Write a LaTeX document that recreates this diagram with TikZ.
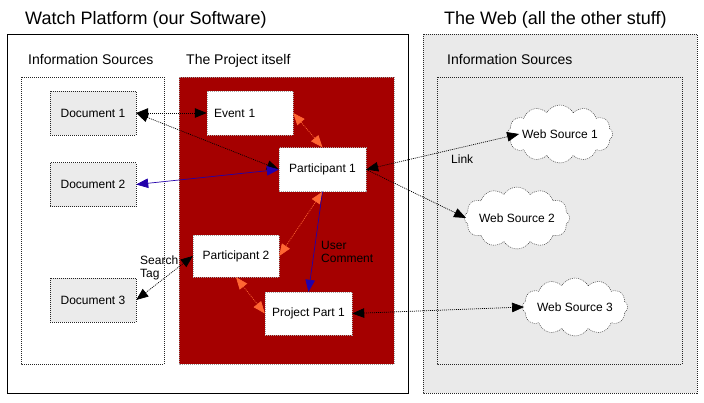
\documentclass[tikz,border=0pt]{standalone}
\usepackage{fontspec}
\setmainfont{Liberation Sans}
\usetikzlibrary{shapes.symbols,arrows.meta}
\definecolor{projred}{HTML}{A50000}
\definecolor{docgray}{HTML}{EBEBEB}
\definecolor{webgray}{HTML}{EAEAEA}
\definecolor{relblue}{HTML}{2200AA}
\definecolor{relorange}{HTML}{FF6633}
\tikzset{
  dots/.style={dash pattern=on 1pt off 1pt},
  titletext/.style={font=\fontsize{18}{21}\selectfont, inner sep=0, anchor=base west},
  headtext/.style={font=\fontsize{14}{16}\selectfont, inner sep=0, anchor=base west},
  txt/.style={font=\fontsize{12}{13}\selectfont},
  lbl/.style={txt, inner sep=0, anchor=north west, align=left},
  docbox/.style={txt, draw=black!85, dots, fill=docgray, minimum width=86pt, minimum height=44pt, inner sep=0},
  itembox/.style={txt, draw=black!35, dots, fill=white, minimum width=87pt, minimum height=44pt, inner sep=0},
  websrc/.style={txt, cloud, cloud puffs=12, cloud puff arc=120, cloud ignores aspect, draw=black!85, dots, fill=white, minimum width=98pt, minimum height=58pt, inner sep=0},
  tipA/.tip={Triangle[length=12pt,width=9.5pt]},
  bi/.style={line width=0.7pt, tipA-tipA},
  uni/.style={line width=0.7pt, -tipA},
  blk/.style={black, dots},
  blu/.style={relblue},
  org/.style={relorange, dots},
}
\begin{document}
\begin{tikzpicture}[x=1pt,y=-1pt]
\useasboundingbox (0,0) rectangle (704,402);
% containers
\draw[line width=0.9pt] (7,34) rectangle (408,393);
\draw[dots, black!85] (21,77) rectangle (164,364);
\draw[dots, black!40, fill=projred] (179,77) rectangle (394,364);
\draw[dots, black!85, fill=webgray] (423,34) rectangle (697,393);
\draw[dots, black!85, fill=webgray] (437,77) rectangle (682,364);
% titles
\node[titletext] (t1) at (25,24) {Watch Platform (our Software)};
\node[titletext] (t2) at (444,24) {The Web (all the other stuff)};
\node[headtext] (h1) at (28,64) {Information Sources};
\node[headtext] (h2) at (186,64) {The Project itself};
\node[headtext] (h3) at (447,64) {Information Sources};
% documents
\node[docbox] (doc1) at (93,113) {Document 1};
\node[docbox] (doc2) at (93,184.5) {Document 2};
\node[docbox] (doc3) at (93,300) {Document 3};
% project items
\node[itembox, text width=72pt, align=left, inner xsep=7pt, minimum width=86pt] (ev1) at (250,113) {Event 1};
\node[itembox] (p1) at (322.5,169.5) {Participant 1};
\node[itembox, minimum width=86pt, minimum height=42pt] (p2) at (236,256) {Participant 2};
\node[itembox, minimum height=43pt] (pp1) at (308.5,313.5) {Project Part 1};
% web sources
\node[websrc] (ws1) at (560,134) {Web Source 1};
\node[websrc, minimum height=62pt] (ws2) at (517,218) {Web Source 2};
\node[websrc] (ws3) at (575,307) {Web Source 3};
% connectors
\draw[bi, blk] (doc1.east) -- (ev1.west);
\draw[bi, blk] (doc1.east) -- (p1.west);
\draw[bi, blu] (doc2.east) -- (p1.west);
\draw[bi, org] (ev1.east) -- (p1.north);
\draw[bi, org] (p1.south) -- (p2.east);
\draw[uni, blu] (p1.south) -- (pp1.north);
\draw[bi, org] (p2.south) -- (pp1.west);
\draw[bi, blk] (doc3.east) -- (p2.west);
\draw[bi, blk] (p1.east) -- ([xshift=12pt]ws1.west);
\draw[uni, blk] (p1.east) -- ([xshift=2pt]ws2.west);
\draw[bi, blk] (pp1.east) -- ([xshift=2pt]ws3.west);
% labels
\node[lbl] (lk) at (451,154.4) {Link};
\node[lbl] (st) at (140,255.4) {Search\\Tag};
\node[lbl] (uc) at (321,241.4) {User\\Comment};
\end{tikzpicture}
\end{document}
